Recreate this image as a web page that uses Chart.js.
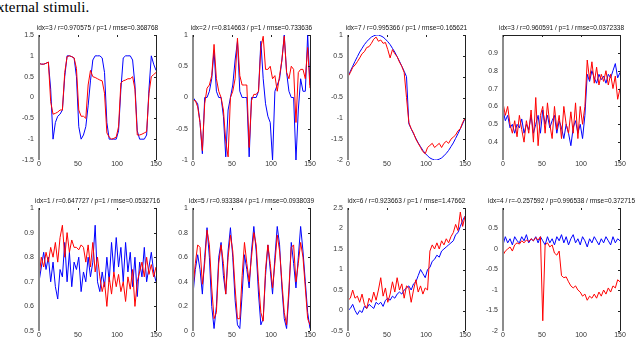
<!DOCTYPE html>
<html>
<head>
<meta charset="utf-8">
<script src="https://cdn.jsdelivr.net/npm/chart.js@4/dist/chart.umd.min.js"></script>
<style>
  body { margin: 0; width: 640px; height: 340px; background: #fff; overflow: hidden; position: relative; }
  .caption { position: absolute; left: -3px; top: -1px; font: 15px/16px "Liberation Serif", serif; letter-spacing: 0.1px; color: #000; white-space: nowrap; }
  canvas { position: absolute; }
</style>
</head>
<body>
<div class="caption">xternal stimuli.</div>
<script>
// time steps shared by every panel
const steps = [0, 3, 6, 9, 12, 15, 18, 21, 24, 27, 30, 33, 36, 39, 42, 45, 48, 51, 54, 57,
  60, 63, 66, 69, 72, 75, 78, 81, 84, 87, 90, 93, 96, 99, 102, 105, 108, 111, 114, 117,
  120, 123, 126, 129, 132, 135, 138, 141, 144, 147, 150];

const titles = [
  "idx=3 / r=0.970575 / p=1 / rmse=0.368768",
  "idx=2 / r=0.814663 / p=1 / rmse=0.733636",
  "idx=7 / r=0.995366 / p=1 / rmse=0.165621",
  "idx=3 / r=0.960591 / p=1 / rmse=0.0372338",
  "idx=1 / r=0.647727 / p=1 / rmse=0.0532716",
  "idx=5 / r=0.933384 / p=1 / rmse=0.0938039",
  "idx=6 / r=0.923663 / p=1 / rmse=1.47662",
  "idx=4 / r=-0.257592 / p=0.996538 / rmse=0.372715",
];

// y tick ranges: [min, max, step]
const yRanges = [[-1.5, 1.5, 0.5], [-1, 1, 0.5], [-2, 1, 0.5], [0.3, 1, 0.1],
  [0.5, 1, 0.1], [0, 1, 0.2], [-0.5, 2.5, 0.5], [-2, 1, 0.5]];
// tick labels left blank
const hiddenTicks = [[], [], [], [0.3, 1], [], [], [], [1]];

const red1 = [0.82, 0.8, 0.8, 0.82, 0.85, -0.1, -0.4, -0.38, -0.35, -0.3,
  -0.3, 0.6, 0.98, 1, 0.98, 0.95, 0.7, -0.3, -0.45, -0.45,
  -0.5, 0.3, 0.65, 0.5, 0.48, 0.45, 0.42, 0.4, 0.1, -0.85,
  -0.95, -1, -0.98, -0.95, -0.7, 0.35, 0.4, 0.42, 0.45, 0.45,
  0.5, 0.2, -0.9, -0.9, -0.88, -0.85, -0.82, 0.1, 0.5, 0.55, 0.6];
const blue1 = [0.82, 0.8, 0.8, 0.82, 0.85, 0.2, -1, -0.6, -0.45, -0.4,
  -0.3, 0.5, 1, 1, 0.98, 0.95, 0.5, -0.7, -1, -0.9,
  -0.7, -0.2, 0.4, 0.9, 1, 1, 1, 0.95, 0.6, -0.6,
  -1, -1, -1, -1, -0.8, 0.2, 0.95, 1, 1, 1,
  0.9, 0.3, -0.8, -1, -1, -1, -0.9, 0.2, 1, 0.8, 0.65];

const red2 = [-0.05, -0.05, -0.15, -0.4, -0.85, -0.1, 0.15, 0.2, 0.35, 0.85,
  0.3, 0.1, 0, -0.2, -0.7, -0.95, 0, 0.1, 0.3, 0.95,
  0.35, 0.2, 0.2, 0.2, -0.8, -0.05, 0.05, 0.05, 0.1, 0.8,
  0.98, 0.45, 0.45, 0.5, 0.3, 0.35, 0.1, 0.35, 0.6, 0.98,
  0.4, 0.3, 0.5, 0.45, -0.4, 0.4, 0.45, 0.45, 0.3, 0.8, 0.15];
const blue2 = [0, -0.05, -0.1, -0.4, -0.9, 0, 0, 0.1, 0.3, 0.75,
  0.1, 0, 0, -0.3, -0.95, -0.2, 0, 0.2, 0.6, 0.9,
  0.1, 0, 0, 0, -0.95, 0, 0, 0, 0.1, 0.9,
  0.3, -0.1, -0.3, -0.4, -1, 0.1, 0.2, 0.3, 0.6, 1,
  0.4, 0.1, 0, 0, -1, -0.2, 0.3, 0.1, 0.1, 1, 0.2];

const red3 = [0, 0.1, 0.22, 0.28, 0.36, 0.45, 0.55, 0.6, 0.7, 0.72,
  0.8, 0.9, 0.95, 0.85, 0.88, 0.8, 0.82, 0.65, 0.45, 0.65,
  0.55, 0.48, 0.35, 0.25, 0.1, -0.5, -1.1, -1.25, -1.35, -1.5,
  -1.6, -1.7, -1.8, -1.85, -1.7, -1.65, -1.6, -1.7, -1.65, -1.6,
  -1.7, -1.6, -1.55, -1.6, -1.5, -1.45, -1.4, -1.3, -1.25, -1.1, -1];
const blue3 = [0, 0.13, 0.25, 0.37, 0.48, 0.59, 0.68, 0.77, 0.84, 0.9,
  0.95, 0.98, 1, 1, 0.98, 0.95, 0.9, 0.84, 0.77, 0.68,
  0.59, 0.48, 0.37, 0.25, 0.13, 0, -1.13, -1.25, -1.37, -1.48,
  -1.59, -1.68, -1.77, -1.84, -1.9, -1.95, -1.98, -2, -2, -1.98,
  -1.95, -1.9, -1.84, -1.77, -1.68, -1.59, -1.48, -1.37, -1.25, -1.13, -1];

const red4 = [0.62, 0.55, 0.6, 0.5, 0.45, 0.52, 0.43, 0.55, 0.47, 0.4,
  0.52, 0.45, 0.58, 0.4, 0.65, 0.38, 0.55, 0.6, 0.45, 0.62,
  0.5, 0.42, 0.6, 0.47, 0.55, 0.42, 0.6, 0.5, 0.45, 0.57,
  0.45, 0.62, 0.42, 0.6, 0.5, 0.6, 0.86, 0.75, 0.85, 0.73,
  0.82, 0.72, 0.78, 0.74, 0.8, 0.72, 0.78, 0.7, 0.77, 0.64, 0.7];
const blue4 = [0.58, 0.52, 0.55, 0.48, 0.5, 0.45, 0.5, 0.48, 0.53, 0.45,
  0.5, 0.47, 0.55, 0.45, 0.5, 0.55, 0.45, 0.58, 0.5, 0.55,
  0.48, 0.52, 0.55, 0.45, 0.52, 0.48, 0.42, 0.5, 0.45, 0.38,
  0.48, 0.52, 0.45, 0.5, 0.42, 0.55, 0.78, 0.74, 0.8, 0.76,
  0.73, 0.78, 0.75, 0.77, 0.73, 0.78, 0.76, 0.8, 0.84, 0.76, 0.79];

const red5 = [0.72, 0.8, 0.76, 0.82, 0.78, 0.84, 0.8, 0.86, 0.78, 0.88,
  0.93, 0.8, 0.9, 0.82, 0.87, 0.84, 0.84, 0.83, 0.85, 0.84,
  0.78, 0.85, 0.76, 0.86, 0.74, 0.8, 0.72, 0.66, 0.7, 0.6,
  0.72, 0.65, 0.74, 0.68, 0.73, 0.66, 0.7, 0.62, 0.72, 0.67,
  0.75, 0.6, 0.7, 0.74, 0.78, 0.72, 0.8, 0.73, 0.77, 0.72, 0.76];
const blue5 = [0.7, 0.76, 0.82, 0.75, 0.8, 0.7, 0.78, 0.68, 0.63, 0.75,
  0.72, 0.86, 0.7, 0.82, 0.68, 0.78, 0.75, 0.8, 0.66, 0.74,
  0.7, 0.8, 0.72, 0.78, 0.93, 0.7, 0.66, 0.74, 0.68, 0.8,
  0.7, 0.86, 0.74, 0.88, 0.76, 0.84, 0.7, 0.86, 0.74, 0.82,
  0.68, 0.8, 0.64, 0.78, 0.72, 0.84, 0.7, 0.76, 0.82, 0.74, 0.7];

const red6 = [0.35, 0.55, 0.7, 0.68, 0.38, 0.55, 0.82, 0.7, 0.35, 0.1,
  0.15, 0.55, 0.7, 0.55, 0.3, 0.6, 0.78, 0.65, 0.35, 0.1,
  0.1, 0.45, 0.72, 0.55, 0.4, 0.6, 0.8, 0.7, 0.4, 0.15,
  0.08, 0.5, 0.7, 0.55, 0.35, 0.55, 0.78, 0.65, 0.4, 0.15,
  0.05, 0.35, 0.68, 0.7, 0.4, 0.55, 0.72, 0.6, 0.35, 0.1, 0.05];
const blue6 = [0.3, 0.5, 0.62, 0.5, 0.3, 0.6, 0.84, 0.6, 0.2, 0.02,
  0.2, 0.6, 0.72, 0.45, 0.3, 0.65, 0.84, 0.6, 0.25, 0.05,
  0.02, 0.3, 0.62, 0.5, 0.35, 0.65, 0.85, 0.65, 0.3, 0.05,
  0.1, 0.45, 0.7, 0.5, 0.3, 0.6, 0.85, 0.7, 0.35, 0.1,
  0.02, 0.3, 0.72, 0.55, 0.35, 0.6, 0.85, 0.65, 0.4, 0.15, 0.02];

const red7 = [0.25, 0.3, 0.5, 0.3, 0.35, 0.2, 0.4, 0.15, 0.05, 0.3,
  0.2, 0.45, 0.25, 0.5, 0.8, 0.35, 0.55, 0.2, 0.4, 0.7,
  0.45, 0.8, 0.5, 0.65, 0.3, 0.6, 0.55, 0.2, 0.5, 0.75,
  0.45, 0.6, 0.4, 0.55, 0.5, 1.45, 1.6, 1.5, 1.65, 1.5,
  1.7, 1.6, 1.75, 1.65, 1.8, 1.9, 2.1, 1.95, 2.4, 2.05, 2.3];
const blue7 = [0, 0.05, 0.15, 0, -0.1, 0, -0.05, 0.1, 0.05, 0.15,
  0.1, 0.05, 0.2, 0.15, 0.2, 0.1, 0.25, 0.3, 0.25, 0.35,
  0.3, 0.4, 0.45, 0.4, 0.5, 0.55, 0.6, 0.5, 0.65, 0.7,
  0.85, 1, 0.9, 0.8, 1, 1.05, 1.2, 1.25, 1.35, 1.3,
  1.45, 1.5, 1.55, 1.6, 1.65, 1.7, 1.85, 1.9, 2.05, 2.2, 2.3];

const red8 = [-0.15, -0.05, 0, 0.05, -0.05, 0.1, 0.15, 0.12, 0.2, 0.15,
  0.22, 0.18, 0.25, 0.2, 0.28, 0.22, 0.3, -1.75, 0.1, 0.15,
  0.05, 0.1, -0.1, -0.15, -0.05, -0.65, -0.7, -0.68, -0.8, -0.9,
  -0.95, -0.9, -1, -1.05, -1.15, -1.1, -1.25, -1.15, -1.2, -1.1,
  -1.2, -1.05, -1.15, -1, -1.1, -0.95, -1.05, -0.9, -0.95, -0.75, -0.8];
const blue8 = [0.1, 0.3, 0.15, 0.25, 0.1, 0.3, 0.2, 0.15, 0.3, 0.2,
  0.35, 0.15, 0.25, 0.2, 0.3, 0.15, 0.3, 0.2, 0.1, 0.3,
  0.15, 0.25, 0.1, 0.3, 0.2, 0.35, 0.15, 0.3, 0.1, 0.25,
  0.35, 0.15, 0.25, 0.1, 0.3, 0.2, 0.05, 0.25, 0.15, 0.3,
  0.2, 0.1, 0.25, 0.15, 0.3, 0.2, 0.1, 0.3, 0.15, 0.25, 0.2];

const reds = [red1, red2, red3, red4, red5, red6, red7, red8];
const blues = [blue1, blue2, blue3, blue4, blue5, blue6, blue7, blue8];

// plot-area geometry on the page
const colLeft = [39, 193, 348, 503];
const rowTop = [35, 208];
const rowHeight = [125, 123];
const PLOT_W = 117;
const PAD = 40, TOP_PAD = 14, BOT_PAD = 14, Y_W = 22, X_H = 11;

const tickFont = { family: "'Liberation Sans', Arial, sans-serif", size: 7 };

// Matlab-like box: grey left axis, thin right edge, inward ticks, title
const framePlugin = {
  id: "frame",
  afterDraw(chart, args, opts) {
    const { ctx, chartArea: a, scales } = chart;
    ctx.save();
    ctx.strokeStyle = "#8c8c8c";
    ctx.lineWidth = 2;
    ctx.beginPath();
    ctx.moveTo(a.left, a.top);
    ctx.lineTo(a.left, a.bottom);
    ctx.stroke();

    ctx.strokeStyle = "#222";
    ctx.lineWidth = 1;
    ctx.beginPath();
    ctx.moveTo(Math.round(a.right) + 0.5, a.top);
    ctx.lineTo(Math.round(a.right) + 0.5, a.bottom);
    if (opts.topLine) {
      ctx.moveTo(a.left, Math.round(a.top) + 0.5);
      ctx.lineTo(a.right, Math.round(a.top) + 0.5);
    }
    scales.x.ticks.forEach((t) => {
      const px = Math.round(scales.x.getPixelForValue(t.value)) + 0.5;
      ctx.moveTo(px, a.top);
      ctx.lineTo(px, a.top + 2);
    });
    scales.y.ticks.forEach((t) => {
      const py = Math.round(scales.y.getPixelForValue(t.value)) + 0.5;
      ctx.moveTo(a.right - 2, py);
      ctx.lineTo(a.right, py);
    });
    ctx.stroke();

    ctx.fillStyle = "#111";
    ctx.font = "6.5px 'Liberation Sans', Arial, sans-serif";
    ctx.textAlign = "center";
    ctx.textBaseline = "alphabetic";
    ctx.fillText(opts.title, (a.left + a.right) / 2, a.top - 5.5);
    ctx.restore();
  },
};

for (let i = 0; i < 8; i++) {
  const col = i % 4, row = Math.floor(i / 4);
  const h = rowHeight[row];
  const canvas = document.createElement("canvas");
  canvas.width = PLOT_W + 2 * PAD;
  canvas.height = h + TOP_PAD + BOT_PAD;
  canvas.style.left = colLeft[col] - PAD + "px";
  canvas.style.top = rowTop[row] - TOP_PAD + "px";
  document.body.appendChild(canvas);

  const [yMin, yMax, yStep] = yRanges[i];
  const hide = hiddenTicks[i];

  new Chart(canvas, {
    type: "scatter",
    data: {
      datasets: [
        {
          data: steps.map((x, k) => ({ x, y: reds[i][k] })),
          borderColor: "rgb(255, 0, 0)",
        },
        {
          data: steps.map((x, k) => ({ x, y: blues[i][k] })),
          borderColor: "rgb(0, 0, 255)",
        },
      ],
    },
    options: {
      responsive: false,
      animation: false,
      devicePixelRatio: 1,
      datasets: {
        scatter: { showLine: true, pointRadius: 0, borderWidth: 1, tension: 0 },
      },
      layout: {
        padding: { left: PAD - Y_W, right: PAD, top: TOP_PAD, bottom: BOT_PAD - X_H },
      },
      plugins: {
        legend: { display: false },
        tooltip: { enabled: false },
        frame: { title: titles[i], topLine: i === 3 },
      },
      scales: {
        x: {
          type: "linear",
          min: 0,
          max: 150,
          afterFit: (s) => { s.height = X_H; },
          grid: { display: false, drawTicks: false },
          border: { display: false },
          ticks: { stepSize: 50, padding: 0, font: tickFont, color: "#333", maxRotation: 0 },
        },
        y: {
          min: yMin,
          max: yMax,
          afterFit: (s) => { s.width = Y_W; },
          grid: { display: false, drawTicks: false },
          border: { display: false },
          ticks: {
            stepSize: yStep,
            padding: 5,
            font: tickFont,
            color: "#333",
            callback: (v) => (hide.some((hv) => Math.abs(hv - v) < 1e-6) ? "" : Math.round(v * 10) / 10),
          },
        },
      },
    },
    plugins: [framePlugin],
  });
}
</script>
</body>
</html>
